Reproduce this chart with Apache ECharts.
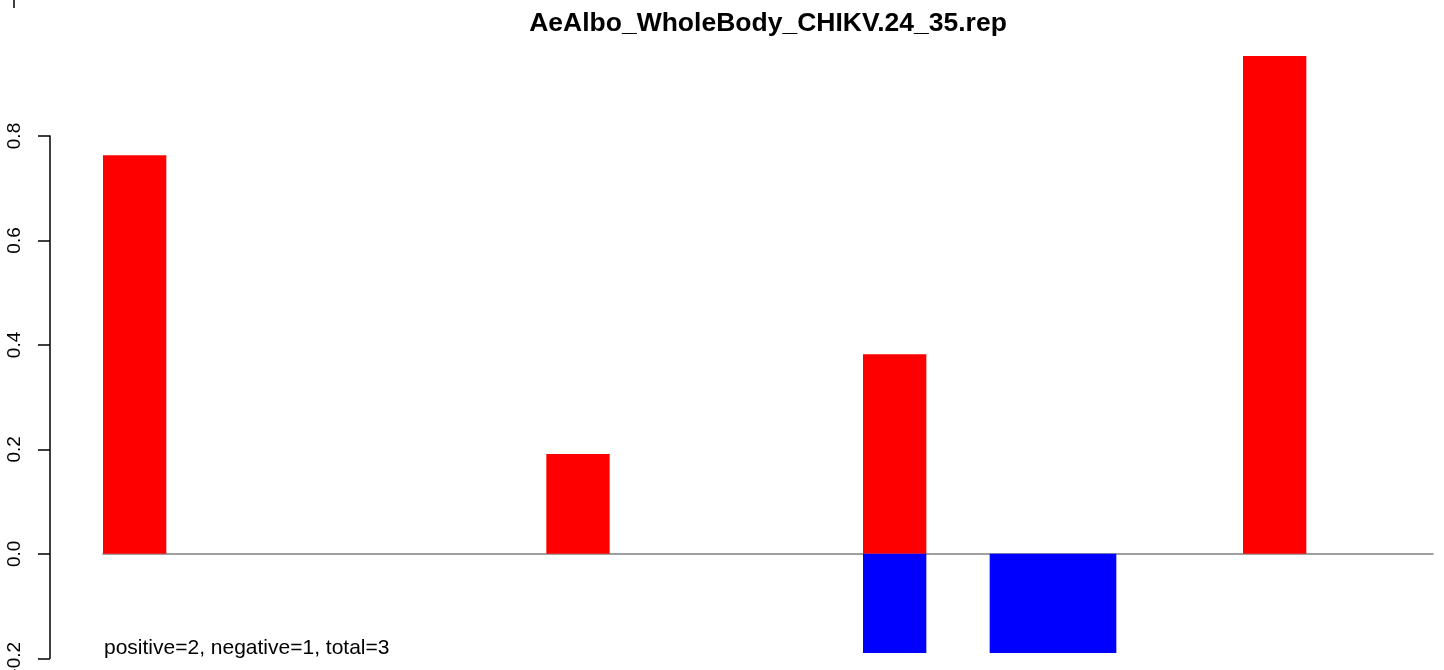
<!DOCTYPE html>
<html>
<head>
<meta charset="utf-8">
<script src="https://cdn.jsdelivr.net/npm/echarts@6/dist/echarts.min.js"></script>
<style>
html,body{margin:0;padding:0;background:#fff;}
#chart{width:1444px;height:670px;}
</style>
</head>
<body>
<div id="chart"></div>
<script>
const titleText = 'AeAlbo_WholeBody_CHIKV.24_35.rep';
const noteText = 'positive=2, negative=1, total=3';
const categories = ['1','2','3','4','5','6','7','8','9','10','11','12','13','14','15','16','17','18','19','20','21'];
const positiveValues = [0.763, null, null, null, null, null, null, 0.191, null, null, null, null, 0.382, null, null, null, null, null, 0.953, null, null];
const negativeValues = [null, null, null, null, null, null, null, null, null, null, null, null, -0.19, null, -0.19, -0.19, null, null, null, null, null];
const yTicks = [-0.2, 0.0, 0.2, 0.4, 0.6, 0.8];

const FONT = '"Liberation Sans", Arial, Helvetica, sans-serif';
const chart = echarts.init(document.getElementById('chart'));
chart.setOption({
  animation: false,
  backgroundColor: '#ffffff',
  grid: { left: 103, right: 11, top: 136, bottom: 11.7, containLabel: false, outerBoundsMode: 'none' },
  xAxis: {
    type: 'category',
    data: categories,
    axisLine: { show: true, onZero: true, lineStyle: { color: '#808080', width: 1.5 } },
    axisTick: { show: false },
    axisLabel: { show: false },
    splitLine: { show: false }
  },
  yAxis: {
    type: 'value',
    min: yTicks[0],
    max: yTicks[yTicks.length - 1],
    interval: 0.2,
    offset: 53,
    axisLine: { show: true, lineStyle: { color: '#000', width: 1.5 } },
    axisTick: { show: true, length: 12, lineStyle: { color: '#000', width: 1.5 } },
    axisLabel: {
      rotate: 90,
      margin: 26,
      color: '#000',
      fontSize: 19,
      fontFamily: FONT,
      formatter: v => v.toFixed(1)
    },
    splitLine: { show: false }
  },
  series: [
    {
      type: 'bar', name: 'positive', data: positiveValues, stack: 's',
      barCategoryGap: 0, clip: false,
      itemStyle: { color: '#ff0000' }
    },
    {
      type: 'bar', name: 'negative', data: negativeValues, stack: 's',
      barCategoryGap: 0, clip: false,
      itemStyle: { color: '#0000ff' }
    }
  ],
  graphic: [
    {
      type: 'text', x: 768, y: 24,
      style: { text: titleText, font: 'bold 26.5px ' + FONT, fill: '#000', textAlign: 'center', textVerticalAlign: 'middle' }
    },
    {
      type: 'text', x: 104, y: 648,
      style: { text: noteText, font: '21px ' + FONT, fill: '#000', textAlign: 'left', textVerticalAlign: 'middle' }
    },
    {
      type: 'line', shape: { x1: 14, y1: 0, x2: 14, y2: 8 },
      style: { stroke: '#000', lineWidth: 1.5 }
    }
  ]
});
</script>
</body>
</html>
